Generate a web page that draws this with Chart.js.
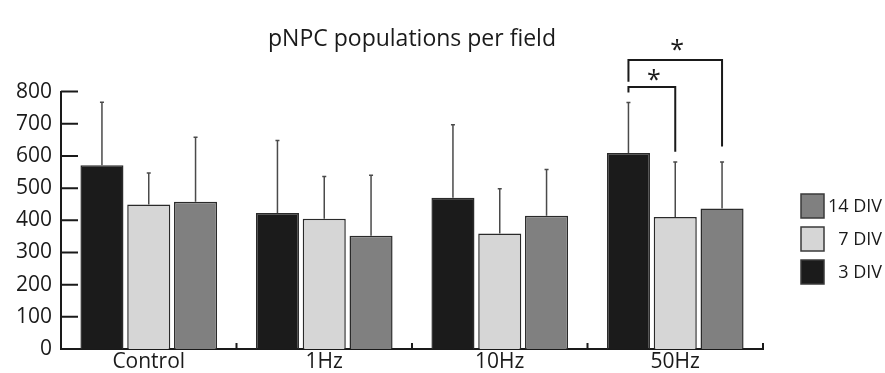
<!DOCTYPE html>
<html>
<head>
<meta charset="utf-8">
<script src="https://cdn.jsdelivr.net/npm/chart.js@4/dist/chart.umd.min.js"></script>
<style>
  html, body { margin: 0; padding: 0; background: #fff; }
  #wrap { width: 885px; height: 373px; }
</style>
</head>
<body>
<div id="wrap"><canvas id="pnpcChart" width="885" height="373"></canvas></div>
<script>
// categories and series
const groups = ['Control', '1Hz', '10Hz', '50Hz'];
const seriesNames = ['3 DIV', '7 DIV', '14 DIV'];

const div3 = [571, 423, 470, 609];
const div7 = [449, 405, 359, 410];
const div14 = [458, 352, 414, 437];

// upper error (SD) for each bar
const div3Err = [196, 225, 227, 157];
const div7Err = [98, 131, 139, 171];
const div14Err = [200, 188, 144, 144];

const yTicks = [0, 100, 200, 300, 400, 500, 600, 700, 800];

// significance brackets on 50Hz, levels in data units
const sigBrackets = [
    { group: 3, from: 0, to: 1, top: 814, leftEnd: 797, rightEnd: 613, label: '*' },
    { group: 3, from: 0, to: 2, top: 898, leftEnd: 831, rightEnd: 629, label: '*' }
];

const fills = ['#1b1b1b', '#d6d6d6', '#808080'];
const errors = [div3Err, div7Err, div14Err];
const FONT = "'Open Sans', 'DejaVu Sans', sans-serif";

// up-only error bars with tiny caps
const errorBars = {
    id: 'errorBars',
    afterDatasetsDraw(chart) {
        const ctx = chart.ctx;
        const y = chart.scales.y;
        ctx.save();
        ctx.strokeStyle = '#4a4a4a';
        ctx.lineWidth = 1.5;
        chart.data.datasets.forEach((ds, i) => {
            const meta = chart.getDatasetMeta(i);
            meta.data.forEach((bar, j) => {
                const top = y.getPixelForValue(ds.data[j] + errors[i][j]);
                ctx.beginPath();
                ctx.moveTo(bar.x, bar.y);
                ctx.lineTo(bar.x, top);
                ctx.moveTo(bar.x - 2, top);
                ctx.lineTo(bar.x + 2, top);
                ctx.stroke();
            });
        });
        ctx.restore();
    }
};

// inward y ticks, upward ticks between groups on x axis
const axisTicks = {
    id: 'axisTicks',
    afterDraw(chart) {
        const ctx = chart.ctx;
        const { x, y } = chart.scales;
        const area = chart.chartArea;
        ctx.save();
        ctx.strokeStyle = '#1a1a1a';
        ctx.lineWidth = 2;
        ctx.beginPath();
        yTicks.forEach(v => {
            const py = y.getPixelForValue(v);
            ctx.moveTo(area.left, py);
            ctx.lineTo(area.left + 17, py);
        });
        for (let k = 1; k <= groups.length; k++) {
            const px = x.getPixelForValue(k - 0.5);
            ctx.moveTo(px, area.bottom);
            ctx.lineTo(px, area.bottom - 6);
        }
        ctx.stroke();
        ctx.restore();
    }
};

const brackets = {
    id: 'brackets',
    afterDraw(chart) {
        const ctx = chart.ctx;
        const y = chart.scales.y;
        ctx.save();
        ctx.strokeStyle = '#1a1a1a';
        ctx.lineWidth = 2;
        ctx.fillStyle = '#1a1a1a';
        ctx.font = '25px ' + FONT;
        ctx.textAlign = 'center';
        ctx.textBaseline = 'alphabetic';
        sigBrackets.forEach((b, n) => {
            const x1 = chart.getDatasetMeta(b.from).data[b.group].x;
            const x2 = chart.getDatasetMeta(b.to).data[b.group].x;
            const yt = y.getPixelForValue(b.top);
            ctx.beginPath();
            ctx.moveTo(x1, y.getPixelForValue(b.leftEnd));
            ctx.lineTo(x1, yt);
            ctx.lineTo(x2, yt);
            ctx.lineTo(x2, y.getPixelForValue(b.rightEnd));
            ctx.stroke();
            ctx.fillText(b.label, (x1 + x2) / 2 + 2, yt + (n === 0 ? 1 : -2));
        });
        ctx.restore();
    }
};

// legend to the right, 14 DIV on top
const sideLegend = {
    id: 'sideLegend',
    afterDraw(chart) {
        const ctx = chart.ctx;
        const area = chart.chartArea;
        const x0 = area.right + 38;
        ctx.save();
        ctx.font = '18px ' + FONT;
        ctx.textAlign = 'right';
        ctx.textBaseline = 'middle';
        const order = chart.data.datasets.map((d, i) => i).reverse();
        order.forEach((i, k) => {
            const ds = chart.data.datasets[i];
            const top = 194 + k * 33;
            ctx.fillStyle = ds.backgroundColor;
            ctx.fillRect(x0, top, 23, 24);
            ctx.strokeStyle = '#3a3a3a';
            ctx.lineWidth = 1.5;
            ctx.strokeRect(x0, top, 23, 24);
            ctx.fillStyle = '#1a1a1a';
            ctx.fillText(ds.label, 882, top + 13);
        });
        ctx.restore();
    }
};

const datasets = [div3, div7, div14].map((vals, i) => ({
    label: seriesNames[i],
    data: vals,
    backgroundColor: fills[i],
    borderColor: '#2a2a2a',
    borderWidth: 1.5,
    categoryPercentage: 0.8,
    barPercentage: 0.92
}));

const ctx = document.getElementById('pnpcChart').getContext('2d');
const pnpcChart = new Chart(ctx, {
    type: 'bar',
    data: { labels: groups, datasets: datasets },
    options: {
        responsive: false,
        animation: false,
        layout: { padding: { left: 0, right: 122, top: 0, bottom: 0 } },
        plugins: {
            legend: { display: false },
            tooltip: { enabled: false },
            title: {
                display: true,
                text: 'pNPC populations per field',
                fullSize: false,
                color: '#1a1a1a',
                font: { family: FONT, size: 23, weight: 'normal' },
                padding: { top: 26, bottom: 38 }
            }
        },
        scales: {
            x: {
                grid: { display: false, drawTicks: false },
                border: { display: true, color: '#1a1a1a', width: 2 },
                ticks: { color: '#1a1a1a', font: { family: FONT, size: 21 }, padding: 0 },
                afterFit(scale) { scale.height = 24; }
            },
            y: {
                min: 0,
                max: 800,
                grid: { display: false, drawTicks: false },
                border: { display: true, color: '#1a1a1a', width: 2 },
                ticks: { stepSize: 100, color: '#1a1a1a', font: { family: FONT, size: 21 }, padding: 9 },
                afterFit(scale) { scale.width = 61; }
            }
        }
    },
    plugins: [errorBars, axisTicks, brackets, sideLegend]
});
</script>
</body>
</html>
